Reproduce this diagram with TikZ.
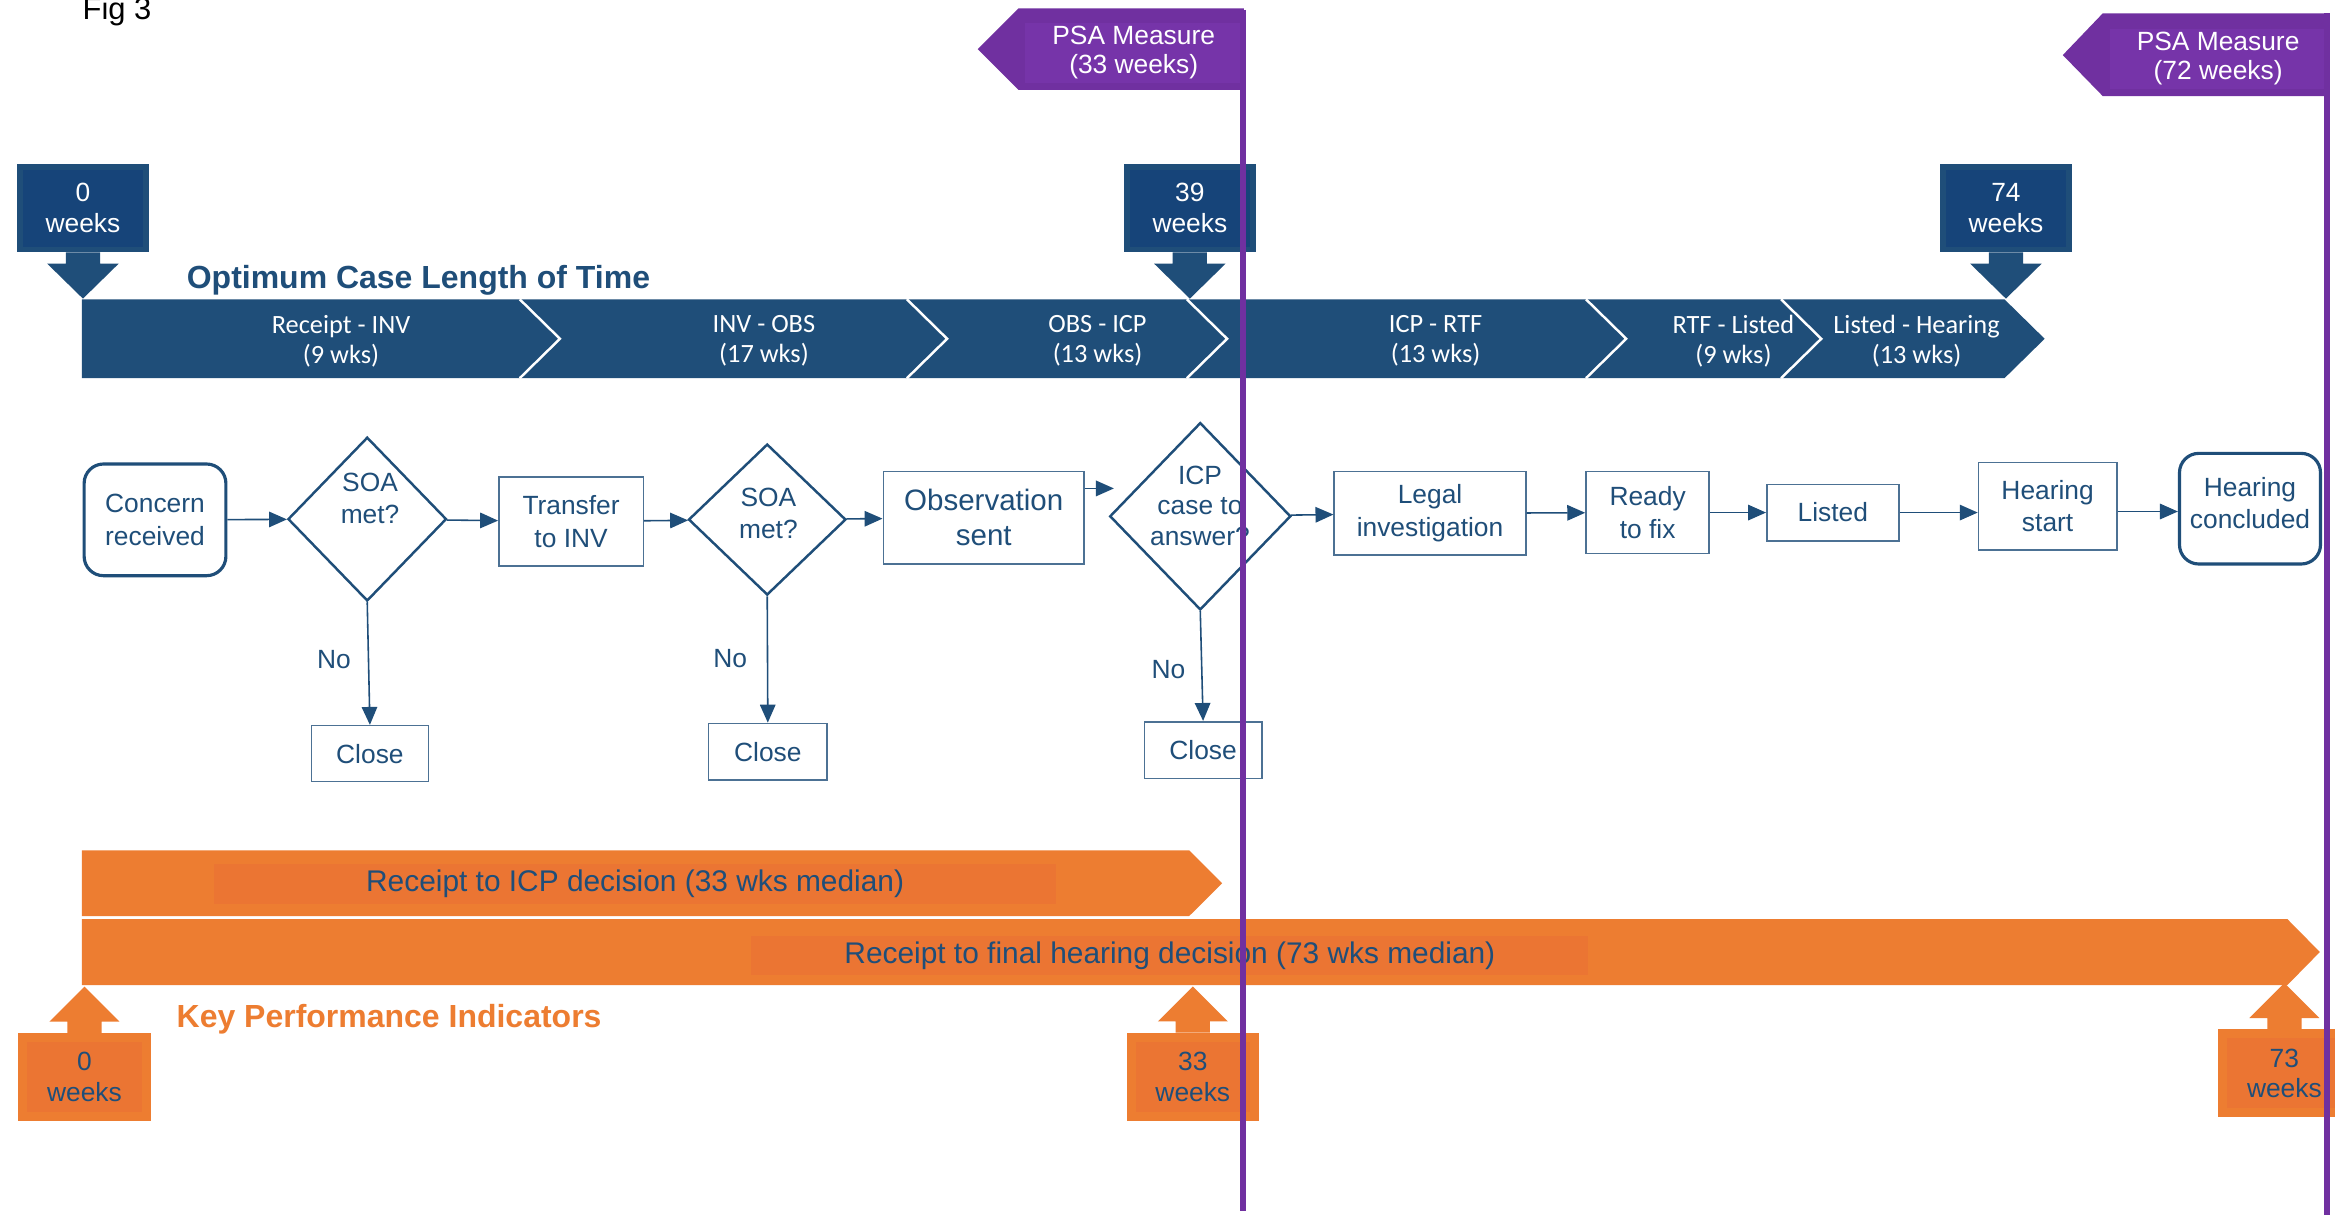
\documentclass[tikz,border=0pt]{standalone}
\usepackage{fontspec}
\setmainfont{Liberation Sans}
\newfontfamily\chevfont{Carlito}
\usepackage{tikz}
\usetikzlibrary{arrows.meta,calc,shapes.geometric}

\definecolor{navy}{HTML}{1F4E79}
\definecolor{navydeep}{HTML}{164479}
\definecolor{kpiorange}{HTML}{ED7D31}
\definecolor{kpiinner}{HTML}{EB7533}
\definecolor{psapurple}{HTML}{7030A0}
\definecolor{psainner}{HTML}{7634A9}

% one unit = one pixel of the 1568 x 816 layout
\newlength\pxu
\setlength\pxu{0.014892cm}

\newcommand{\flowsize}{\fontsize{7.5}{9.2}\selectfont}
\newcommand{\wksize}{\fontsize{7.5}{8.7}\selectfont}
\newcommand{\psasize}{\fontsize{7.5}{8.3}\selectfont}
\newcommand{\chevsize}{\chevfont\fontsize{7.5}{8.5}\selectfont}
\newcommand{\kpisize}{\fontsize{8.5}{10}\selectfont}
\newcommand{\titlesize}{\bfseries\fontsize{9.1}{11}\selectfont}

\begin{document}
\begin{tikzpicture}[x=\pxu, y=-\pxu, >={Triangle[length=5.1pt, width=4.4pt]},
    flowbox/.style={draw=navy!80, line width=0.45pt, text=navy, align=center, font=\flowsize},
    endbox/.style={flowbox, draw=navy, line width=0.9pt, rounded corners=5.5pt},
    decision/.style={diamond, draw=navy, line width=0.7pt, inner sep=0pt},
    flowtext/.style={text=navy, align=center, font=\flowsize},
    flowarrow/.style={->, navy, line width=0.45pt},
    wkbox/.style={draw=navy, fill=navydeep, line width=4\pxu, text=white, align=center, font=\wksize,
        minimum width=84.5\pxu, minimum height=55.5\pxu, inner sep=0pt},
    kpibox/.style={draw=kpiorange, fill=kpiinner, line width=6\pxu, text=navy, align=center, font=\wksize,
        minimum width=82.9\pxu, minimum height=53.1\pxu, inner sep=0pt},
    kpilabel/.style={fill=kpiinner, text=navy, font=\kpisize, inner sep=0pt},
    psabox/.style={fill=psainner, text=white, align=center, font=\psasize,
        minimum width=146.6\pxu, minimum height=40.3\pxu, inner sep=0pt},
    seglabel/.style={text=white, align=center, font=\chevsize},
    ]
    % Page
    \fill[white] (0,0) rectangle (1568,816);
    \useasboundingbox (0,0) rectangle (1568,816);
    \node[anchor=base west, inner sep=0pt, font=\fontsize{8.8}{10}\selectfont] (fig) at (55,13) {Fig 3};

    % Optimum timeline
    \fill[navy] (55,201) -- (1346,201) -- (1373,227.5) -- (1346,254) -- (55,254) -- cycle;
    \foreach \cx in {349,609,797,1065,1196}
        \draw[white, line width=0.7pt] (\cx,201) -- (\cx+27,227.5) -- (\cx,254);
    \foreach \nm/\cx/\txt in {seg1/229/{Receipt - INV\\(9 wks)}, seg2/513/{INV - OBS\\(17 wks)},
            seg3/737/{OBS - ICP\\(13 wks)}, seg4/964/{ICP - RTF\\(13 wks)},
            seg5/1164/{RTF - Listed\\(9 wks)}, seg6/1287/{Listed - Hearing\\(13 wks)}}
        \node[seglabel] (\nm) at (\cx,229) {\txt};
    \node[anchor=base west, text=navy, font=\titlesize, inner sep=0pt] (optitle) at (125,193.6) {Optimum Case Length of Time};

    % Week markers above
    \foreach \nm/\cx/\wk in {w0/55.7/0, w39/799/39, w74/1347/74} {
        \node[wkbox] (\nm) at (\cx,139.8) {\wk\\weeks};
        \fill[navy] ($(\nm.south)+(-11.5,0)$) -- ++(0,7.5) -- ++(-12.5,0) -- ++(24,23.5)
            -- ++(24,-23.5) -- ++(-12.5,0) -- ++(0,-7.5) -- cycle;
    }

    % Process
    \node[endbox, minimum width=95.2\pxu, minimum height=75\pxu] (concern) at (104.1,349.1) {Concern\\received};
    \node[decision, minimum width=106.5\pxu, minimum height=110\pxu] (soa1) at (246.6,348.6) {};
    \node[flowtext] (soa1txt) at (248.5,334.7) {SOA\\met?};
    \node[flowbox, minimum width=97\pxu, minimum height=59.4\pxu] (transfer) at (383.5,350.2) {Transfer\\to INV};
    \node[decision, minimum width=105.7\pxu, minimum height=101.4\pxu] (soa2) at (515.2,348.9) {};
    \node[flowtext] (soa2txt) at (516,345) {SOA\\met?};
    \node[flowbox, minimum width=134.9\pxu, minimum height=62\pxu, font=\fontsize{8.4}{10}\selectfont] (obs) at (660.6,347.7) {Observation\\sent};
    \node[decision, minimum width=121.6\pxu, minimum height=125.8\pxu] (icp) at (806,346.7) {};
    \node[flowtext, font=\fontsize{7.5}{8.7}\selectfont] (icptxt) at (805.8,339.6) {ICP\\case to\\answer?};
    \node[flowbox, minimum width=128.7\pxu, minimum height=56\pxu] (legal) at (960.3,344.7) {Legal\\investigation};
    \node[flowbox, minimum width=82.8\pxu, minimum height=55\pxu] (ready) at (1106.4,344.2) {Ready\\to fix};
    \node[flowbox, minimum width=88.7\pxu, minimum height=37.9\pxu] (listed) at (1230.8,344.2) {Listed};
    \node[flowbox, minimum width=92.8\pxu, minimum height=58.6\pxu] (hstart) at (1375,340) {Hearing\\start};
    \node[endbox, minimum width=94.7\pxu, minimum height=74.3\pxu] (hconc) at (1510.9,341.6) {};
    \node[flowtext] (hconctxt) at (1510.9,338) {Hearing\\concluded};
    \node[flowbox, minimum width=78.7\pxu, minimum height=37.6\pxu] (close1) at (248.4,506.1) {Close};
    \node[flowbox, minimum width=79.5\pxu, minimum height=38\pxu] (close2) at (515.6,504.8) {Close};
    \node[flowbox, minimum width=78.7\pxu, minimum height=38.1\pxu] (close3) at (807.9,503.7) {Close};
    \node[flowtext] (no1) at (224.3,443.2) {No};
    \node[flowtext] (no2) at (490.4,442) {No};
    \node[flowtext] (no3) at (784.6,449.5) {No};
    \coordinate (icpin) at (748,328);
    \coordinate (hsout) at ($(hstart.east)+(0,3.5)$);

    % Connectors
    \draw[flowarrow] (concern) -- (soa1);
    \draw[flowarrow] (soa1) -- (transfer);
    \draw[flowarrow] (transfer) -- (soa2);
    \draw[flowarrow] (soa2) -- (obs);
    \draw[flowarrow] (obs.east |- icpin) -- (icpin);
    \draw[flowarrow] (icp) -- (legal);
    \draw[flowarrow] (legal) -- (ready);
    \draw[flowarrow] (ready) -- (listed);
    \draw[flowarrow] (listed.east) -- (listed.east -| hstart.west);
    \draw[flowarrow] (hsout) -- (hsout -| hconc.west);
    \draw[flowarrow] (soa1.south) -- (close1.north);
    \draw[flowarrow] (soa2.south) -- (close2.north);
    \draw[flowarrow] (icp.south) -- (close3.north);

    % KPI bars
    \fill[kpiorange] (55,571) -- (798.5,571) -- (820.7,593.1) -- (798.5,615.2) -- (55,615.2) -- cycle;
    \fill[kpiorange] (55,617.2) -- (1536,617.2) -- (1557.8,639.3) -- (1536,661.5) -- (55,661.5) -- cycle;
    \node[kpilabel, minimum width=565\pxu, minimum height=26.7\pxu] (icpbar) at (426.5,593.6) {Receipt to ICP decision (33 wks median)};
    \node[kpilabel, minimum width=562\pxu, minimum height=26.2\pxu] (finalbar) at (785.6,641.7) {Receipt to final hearing decision (73 wks median)};
    \node[anchor=base west, text=kpiorange, font=\titlesize, inner sep=0pt] (kpititle) at (118.2,690.2) {Key Performance Indicators};

    % Week markers below
    \foreach \nm/\cx/\cy/\wk in {k0/56.7/723.1/0, k33/801/723/33, k73/1534/720.7/73} {
        \node[kpibox] (\nm) at (\cx,\cy) {\wk\\weeks};
        \fill[kpiorange] ($(\nm.north)+(-11.5,0)$) -- ++(0,-7.5) -- ++(-12,0) -- ++(23.5,-23.5)
            -- ++(23.5,23.5) -- ++(-12,0) -- ++(0,7.5) -- cycle;
    }

    % PSA measures
    \fill[psapurple] (656.5,33) -- (684,5.6) -- (835.2,5.6) -- (835.2,60.4) -- (684,60.4) -- cycle;
    \node[psabox] (psa33) at (761.3,35.5) {PSA Measure\\(33 weeks)};
    \fill[psapurple] (1385.2,37) -- (1412,9) -- (1563.5,9) -- (1563.5,64.5) -- (1412,64.5) -- cycle;
    \node[psabox, minimum width=145\pxu] (psa72) at (1489.5,39.5) {PSA Measure\\(72 weeks)};
    \draw[psapurple, line width=4\pxu] (835,6.7) -- (835,813);
    \draw[psapurple, line width=4\pxu] (1562.6,9) -- (1562.6,816);
\end{tikzpicture}
\end{document}
